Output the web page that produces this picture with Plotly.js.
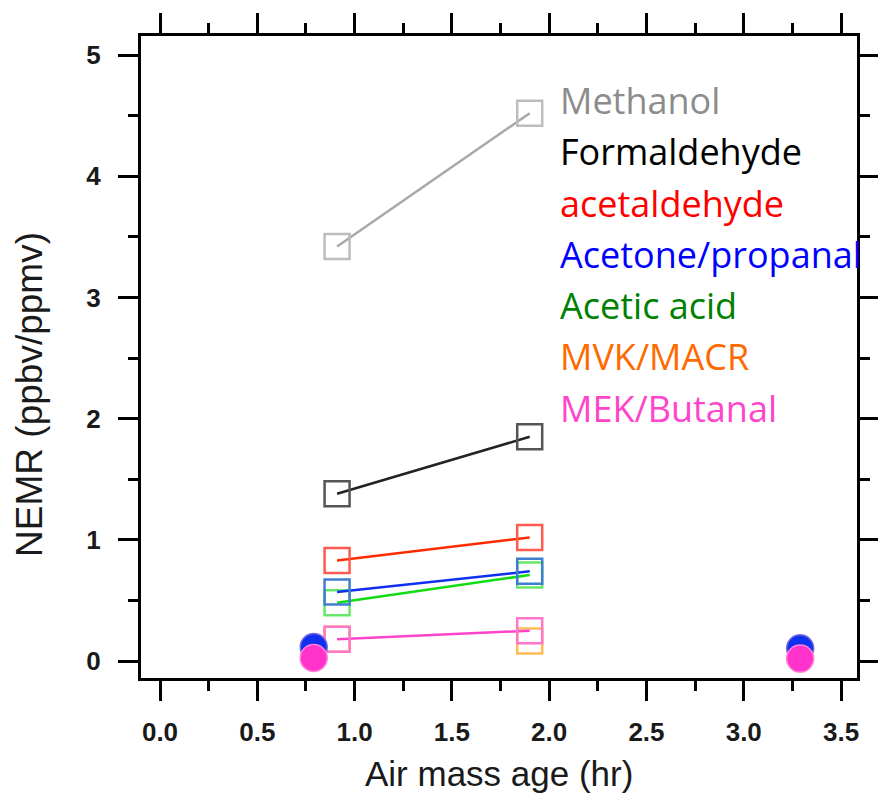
<!DOCTYPE html>
<html>
<head>
<meta charset="utf-8">
<script src="https://cdn.plot.ly/plotly-3.0.1.min.js"></script>
<style>html,body{margin:0;padding:0;background:#fff;}#chart{width:878px;height:794px;}</style>
</head>
<body>
<div id="chart"></div>
<script>
// Air mass age (hr) of the paired samples
var ageSquares = [0.91, 1.9];
var ageCircles = [0.79, 3.29];

// NEMR (ppbv/ppmv) values
var methanol      = [3.42, 4.52];
var formaldehyde  = [1.38, 1.85];
var acetaldehyde  = [0.83, 1.02];
var mvkMacr       = [0.18, 0.165];
var aceticAcid    = [0.48, 0.71];
var acetone       = [0.57, 0.74];
var mekButanal    = [0.18, 0.25];

var acetoneCircles = [0.115, 0.105];
var mekCircles     = [0.025, 0.02];

var speciesNames = ["Methanol", "Formaldehyde", "acetaldehyde", "Acetone/propanal", "Acetic acid", "MVK/MACR", "MEK/Butanal"];
var nameColors   = ["#8c8c8c", "#000000", "#ff0000", "#0000ff", "#008000", "#ff6a00", "#ff44cc"];

var xTitle = "Air mass age (hr)";
var yTitle = "NEMR (ppbv/ppmv)";

function pair(y, lineColor, markerColor, name, mode) {
  return {
    x: ageSquares, y: y, name: name, type: "scatter", mode: mode || "lines+markers",
    line: {color: lineColor, width: 2.5},
    marker: {symbol: "square-open", size: 25, color: markerColor, line: {width: 2.5, color: markerColor}},
    cliponaxis: false
  };
}

var traces = [
  pair(methanol, "#a8a8a8", "#bdbdbd", "Methanol"),
  pair(formaldehyde, "#222222", "#555555", "Formaldehyde"),
  pair(acetaldehyde, "#ff2a00", "#ff5a50", "acetaldehyde"),
  pair(mvkMacr, "#ff9900", "#ffbb55", "MVK/MACR", "markers"),
  pair(aceticAcid, "#11dd11", "#66e866", "Acetic acid"),
  pair(acetone, "#1030f0", "#3f7fd0", "Acetone/propanal"),
  pair(mekButanal, "#ff44cc", "#ff77c8", "MEK/Butanal"),
  {x: ageCircles, y: acetoneCircles, type: "scatter", mode: "markers", name: "Acetone/propanal (circle)",
   marker: {symbol: "circle", size: 27, color: "#1030f0", line: {width: 1.5, color: "#7a6ce0"}}, cliponaxis: false},
  {x: ageCircles, y: mekCircles, type: "scatter", mode: "markers", name: "MEK/Butanal (circle)",
   marker: {symbol: "circle", size: 27, color: "#ff33cc", line: {width: 1.5, color: "#ff80d8"}}, cliponaxis: false}
];

var annotations = speciesNames.map(function (n, i) {
  return {
    text: n, x: 2.045, y: 4.625 - i * 0.423, xref: "x", yref: "y",
    xanchor: "left", yanchor: "middle", showarrow: false,
    font: {family: "Open Sans, sans-serif", size: 36, color: nameColors[i]}
  };
});

var tickFont = {family: "Liberation Sans, Arial, sans-serif", size: 26, color: "#1a1a1a", weight: "bold"};

annotations.push({
  text: yTitle, xref: "paper", yref: "paper", x: -0.155, y: 0.441,
  xanchor: "center", yanchor: "middle", textangle: -90, showarrow: false,
  font: {family: "Liberation Sans, Arial, sans-serif", size: 37, color: "#1a1a1a"}
});
annotations.push({
  text: xTitle, xref: "paper", yref: "paper", x: 0.5, y: -0.148,
  xanchor: "center", yanchor: "middle", showarrow: false,
  font: {family: "Liberation Sans, Arial, sans-serif", size: 35, color: "#1a1a1a"}
});

var layout = {
  width: 878, height: 794,
  margin: {l: 141, r: 21, t: 36, b: 116},
  paper_bgcolor: "#fff", plot_bgcolor: "#fff",
  showlegend: false,
  xaxis: {
    range: [-0.0977, 3.582], tick0: 0, dtick: 0.5, tickformat: ".1f",
    showgrid: false, zeroline: false,
    showline: true, linecolor: "#000", linewidth: 3, mirror: "ticks",
    ticks: "outside", ticklen: 20, tickwidth: 3, tickcolor: "#000",
    minor: {dtick: 0.25, ticks: "outside", ticklen: 10, tickwidth: 3, tickcolor: "#000", showgrid: false},
    tickfont: tickFont, ticklabelstandoff: 9,
    automargin: false
  },
  yaxis: {
    range: [-0.14, 5.157], tick0: 0, dtick: 1,
    showgrid: false, zeroline: false,
    showline: true, linecolor: "#000", linewidth: 3, mirror: "ticks",
    ticks: "outside", ticklen: 20, tickwidth: 3, tickcolor: "#000",
    minor: {dtick: 0.5, ticks: "outside", ticklen: 10, tickwidth: 3, tickcolor: "#000", showgrid: false},
    tickfont: tickFont, ticklabelstandoff: 12,
    automargin: false
  },
  annotations: annotations
};

Plotly.newPlot("chart", traces, layout, {displayModeBar: false, staticPlot: true});
</script>
</body>
</html>
